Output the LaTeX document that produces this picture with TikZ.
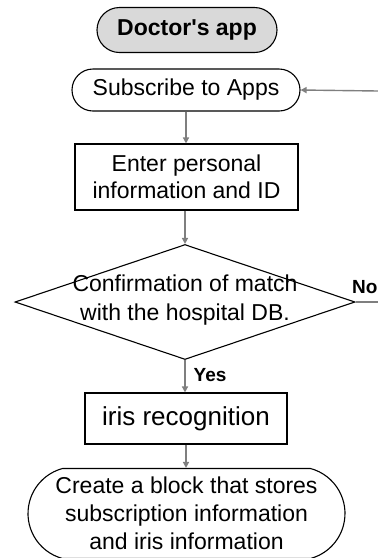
\documentclass[tikz,border=0pt]{standalone}
\usepackage{fontspec}
\setmainfont{Liberation Sans}[Ligatures=TeXOff]
\usetikzlibrary{shapes.geometric,shapes.misc,arrows.meta}
\definecolor{linkgray}{HTML}{7F7F7F}
\definecolor{appgray}{HTML}{D9D9D9}

\begin{document}
\begin{tikzpicture}[x=1pt, y=-1pt,
	txt/.style={font=\fontsize{23}{27}\selectfont, align=center, inner sep=0pt, draw, line width=1.1pt},
	pill/.style={txt, rounded rectangle},
	box/.style={txt, rectangle},
	flow/.style={draw=linkgray, line width=1.4pt, -{Triangle[length=6pt,width=6pt]}},
	tag/.style={font=\fontsize{19}{19}\bfseries\selectfont, inner sep=0pt}]
	\useasboundingbox (0,0) rectangle (378,558);
	\node[pill, fill=appgray, font=\fontsize{23}{27}\bfseries\selectfont, minimum width=180pt, minimum height=45pt] (app) at (187,30) {Doctor's app};
	\node[pill, minimum width=228pt, minimum height=42pt] (sub) at (186,90) {Subscribe to Apps};
	\node[box, minimum width=223pt, minimum height=66pt] (info) at (186.5,177) {Enter personal\\information and ID};
	\node[draw, shape=diamond, line width=1.1pt, minimum width=340pt, minimum height=115pt, inner sep=0pt] (check) at (185,302) {};
	\node[font=\fontsize{23}{29}\selectfont, align=center, inner sep=0pt] (checktxt) at ([yshift=2pt]check.center) {Confirmation of match\\with the hospital DB.};
	\node[box, font=\fontsize{26}{30}\selectfont, minimum width=202pt, minimum height=51pt] (iris) at (186,418.5) {iris recognition};
	\node[pill, rounded rectangle arc length=150, font=\fontsize{23}{28}\selectfont, minimum width=317pt, minimum height=90pt] (block) at (186.5,513.5) {Create a block that stores\\subscription information\\and iris information};
	\coordinate (back) at (378,91);
	\coordinate (noend) at (378,302);
	\draw[flow] (back) -- (sub.east);
	\draw[flow] (sub.south) -- (sub.south |- info.north);
	\draw[flow] (check.north |- info.south) -- (check.north);
	\draw[flow] (check.south) -- node[tag, right, xshift=8pt, yshift=1pt] (yes) {Yes} (check.south |- iris.north);
	\draw[flow] (iris.south) -- (iris.south |- block.north);
	\draw[draw=linkgray, line width=1.4pt] (check.east) -- (noend);
	\node[tag, anchor=base west] (no) at (352,293) {No};
\end{tikzpicture}
\end{document}
